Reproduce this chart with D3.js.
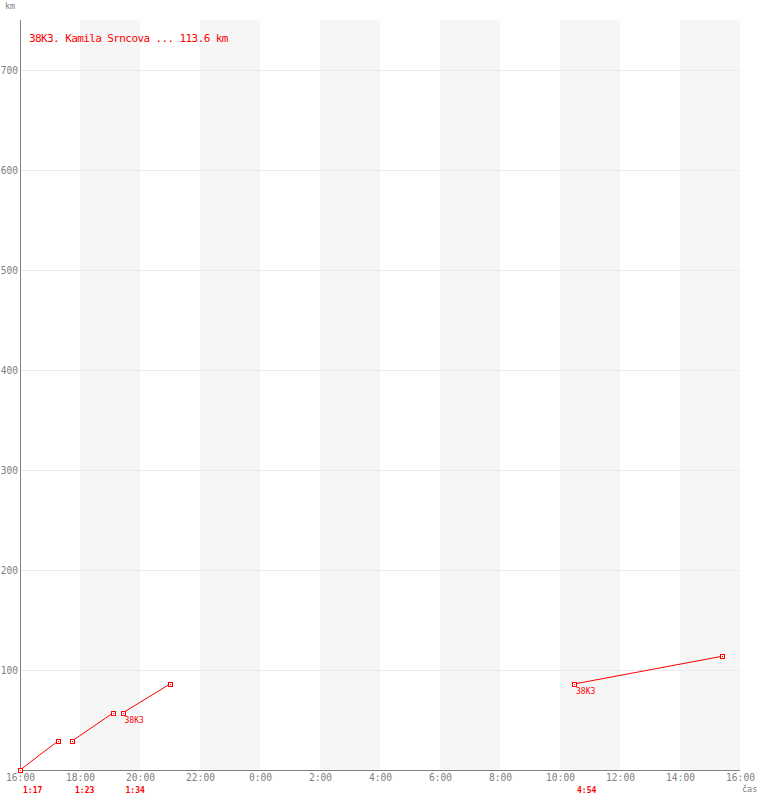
<!DOCTYPE html>
<html>
<head>
<meta charset="utf-8">
<script src="https://cdn.jsdelivr.net/npm/d3@7"></script>
<style>
  body { margin: 0; background: #fff; }
  text { font-family: "DejaVu Sans Mono", monospace; }
</style>
</head>
<body>
<div id="node"></div>
<script>
// track points: clock time and km
const times = ["16:00", "17:16", "17:44", "19:06", "19:25", "21:00", "10:28", "15:23"];
const dayOffset = [0, 0, 0, 0, 0, 0, 1, 1];
const km = [0, 29, 29, 57, 57, 86, 86, 113.6];
// each segment = [from point, to point], with its duration label
const segments = [[0, 1], [2, 3], [4, 5], [6, 7]];
const durations = ["1:17", "1:23", "1:34", "4:54"];
const crewLabels = [{ point: 4, text: "38K3" }, { point: 6, text: "38K3" }];
const title = "38K3. Kamila Srncova ... 113.6 km";
const yTicks = [100, 200, 300, 400, 500, 600, 700];

const width = 760, height = 800;
const red = "#ff0000", grey = "#808080";

function toDate(t, d) {
    const [h, m] = t.split(":").map(Number);
    return new Date(2000, 0, 1 + d, h, m);
}
const dates = times.map((t, i) => toDate(t, dayOffset[i]));

const start = new Date(2000, 0, 1, 16, 0), end = new Date(2000, 0, 2, 16, 0);
const x = d3.scaleTime().domain([start, end]).range([20, 740]);
const y = d3.scaleLinear().domain([0, 750]).range([770, 20]);

const svg = d3.select("#node").append("svg")
    .attr("width", width).attr("height", height)
    .attr("shape-rendering", "crispEdges");

// grey bands: 18-20, 22-0, 2-4 ...
const bandStarts = d3.timeHour.range(new Date(2000, 0, 1, 18), end, 4);
svg.append("g").selectAll("rect").data(bandStarts).enter().append("rect")
    .attr("x", d => x(d))
    .attr("y", y(750))
    .attr("width", d => x(d3.timeHour.offset(d, 2)) - x(d))
    .attr("height", y(0) - y(750))
    .attr("fill", "#f6f6f6");

// horizontal grid
svg.append("g").selectAll("line").data(yTicks).enter().append("line")
    .attr("x1", 20).attr("x2", 740)
    .attr("y1", d => Math.round(y(d)) + 0.5).attr("y2", d => Math.round(y(d)) + 0.5)
    .attr("stroke", "#ebebeb");

// axes
const xAxis = svg.append("g")
    .attr("transform", "translate(0,770)")
    .call(d3.axisBottom(x).ticks(d3.timeHour.every(2)).tickFormat(d3.timeFormat("%-H:%M")).tickSize(0).tickPadding(4));
const yAxis = svg.append("g")
    .attr("transform", "translate(20,0)")
    .call(d3.axisLeft(y).tickValues(yTicks).tickSize(0).tickPadding(2));
[xAxis, yAxis].forEach(a => {
    a.select(".domain").attr("stroke", grey);
    a.selectAll("text").attr("fill", grey)
        .style("font-family", '"DejaVu Sans Mono", monospace')
        .style("font-size", "9.6px");
});
yAxis.select(".domain").attr("d", "M0.5," + y(750) + "V" + (y(0) + 0.5));
xAxis.select(".domain").attr("d", "M20,0.5H740");

svg.append("text").attr("x", 5).attr("y", 9)
    .attr("fill", grey).style("font-size", "8.5px").text("km");
svg.append("text").attr("x", 742).attr("y", 792)
    .attr("fill", grey).style("font-size", "8.5px").text("čas");

// title
svg.append("text").attr("x", 29).attr("y", 42)
    .attr("fill", red).style("font-size", "11px").attr("letter-spacing", "-0.6")
    .text(title);

// track segments
const line = d3.line().x(i => x(dates[i])).y(i => y(km[i]));
svg.append("g").selectAll("path").data(segments).enter().append("path")
    .attr("d", d => line(d))
    .attr("fill", "none").attr("stroke", red).attr("stroke-width", 1)
    .attr("shape-rendering", "auto");

// markers
const pts = svg.append("g").selectAll("g").data(d3.range(times.length)).enter().append("g")
    .attr("transform", i => "translate(" + Math.round(x(dates[i])) + "," + Math.round(y(km[i])) + ")");
pts.append("rect").attr("x", -1.5).attr("y", -1.5).attr("width", 4).attr("height", 4)
    .style("fill", "#ffffff").style("stroke", red).style("stroke-width", "1px");
pts.append("rect").attr("x", 0).attr("y", 0).attr("width", 1).attr("height", 1).style("fill", red);

// crew labels
svg.append("g").selectAll("text").data(crewLabels).enter().append("text")
    .attr("x", d => x(dates[d.point]) + 2)
    .attr("y", d => y(km[d.point]) + 10)
    .attr("fill", red).style("font-size", "8px")
    .text(d => d.text);

// segment durations below axis
svg.append("g").selectAll("text").data(segments).enter().append("text")
    .attr("x", d => x(dates[d[0]]) + 3)
    .attr("y", 793)
    .attr("fill", red).style("font-size", "8px").style("font-weight", "bold")
    .text((d, i) => durations[i]);
</script>
</body>
</html>
